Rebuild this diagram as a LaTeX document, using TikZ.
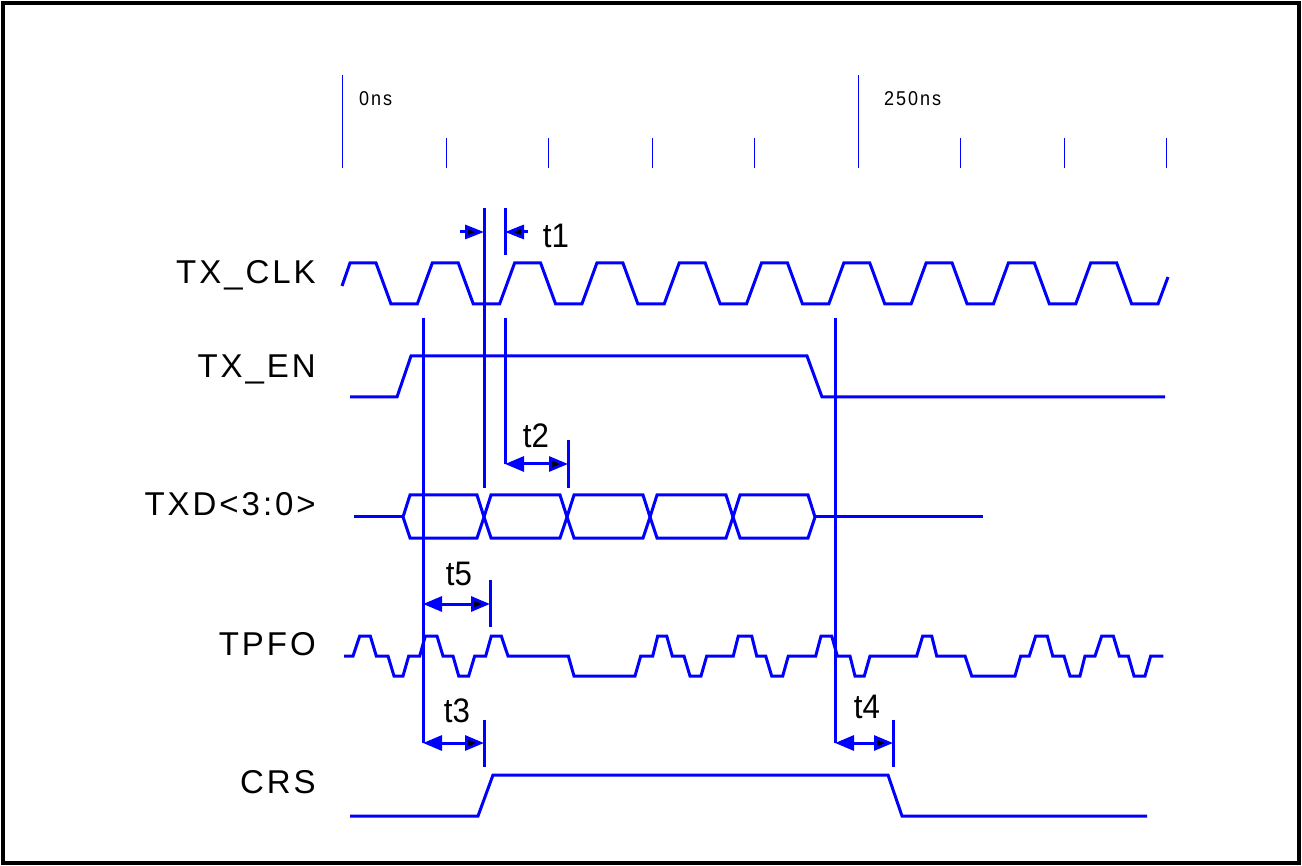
\documentclass[tikz,border=0pt]{standalone}
\usepackage{fontspec}
\usetikzlibrary{arrows.meta}
\newfontfamily\lblfont[LetterSpace=9]{Liberation Sans}
\newfontfamily\rulfont[LetterSpace=10,FakeStretch=0.9]{Liberation Sans}
\newfontfamily\tfont[FakeStretch=0.92]{Liberation Sans}
\definecolor{sig}{RGB}{0,0,255}
\tikzset{
  wave/.style={draw=sig, line width=3pt, line join=miter},
  marker/.style={draw=sig, line width=3pt},
  tick/.style={draw=sig, line width=1pt},
  siglabel/.style={anchor=base east, inner sep=0pt, font=\lblfont\fontsize{33}{36}\selectfont},
  rulelabel/.style={anchor=west, inner sep=0pt, font=\rulfont\fontsize{20}{22}\selectfont},
  tlabel/.style={inner sep=0pt, font=\tfont\fontsize{34}{36}\selectfont},
  darrow/.style={draw=sig, line width=3pt, {Triangle[length=19pt,width=15pt,fill=sig]}-{Triangle[length=19pt,width=15pt,fill=black]}},
  rarrow/.style={draw=sig, line width=3pt, -{Triangle[length=19pt,width=14pt,fill=black]}}
}
\begin{document}
\begin{tikzpicture}[x=1pt,y=-1pt]
\useasboundingbox (0,0) rectangle (1302,866);
\draw[black, line width=3.5pt] (3,3) rectangle (1299,863);

% ruler
\foreach \x in {342,858} \draw[tick] (\x,75) -- (\x,168);
\foreach \x in {446,548,652,754,960,1064,1166} \draw[tick] (\x,138) -- (\x,168);
\node[rulelabel] (r0) at (359,99) {0ns};
\node[rulelabel] (r250) at (884,99) {250ns};

% signal labels
\node[siglabel] (lclk) at (316,284) {TX\_CLK};
\node[siglabel] (len) at (316,378) {TX\_EN};
\node[siglabel] (ltxd) at (316,515) {TXD<3:0>};
\node[siglabel] (ltpfo) at (316,655) {TPFO};
\node[siglabel] (lcrs) at (316,793) {CRS};

% TX_CLK
\draw[wave] (342,286) foreach \k in {0,...,9} {
  -- ({350+82.3*\k},263) -- ({376+82.3*\k},263) -- ({391+82.3*\k},304) -- ({417.3+82.3*\k},304)
} -- (1168,277);

% TX_EN
\draw[wave] (350,397) -- (397,397) -- (411,356) -- (807,356) -- (822,397) -- (1165,397);

% TXD<3:0>
\draw[wave] (354,517) -- (403,517);
\foreach \a/\b in {403/484,484/567,567/650,650/733,733/815}
  \draw[wave] (\a,517) -- (\a+7,495) -- (\b-7,495) -- (\b,517) -- (\b-7,538) -- (\a+7,538) -- cycle;
\draw[wave] (815,517) -- (983,517);

% TPFO
\draw[wave] (344,656) -- (353,656) -- (359.7,636) -- (370.3,636) -- (376.3,656) -- (388,656) -- (394,676) -- (403,676)
 -- (408.7,656) -- (419.7,656) -- (425.3,636) -- (437,636) -- (443,656) -- (453,656) -- (458.7,676) -- (468.7,676)
 -- (474.7,656) -- (485.7,656) -- (491.3,636) -- (501.3,636) -- (508,656) -- (568.3,656) -- (574,676) -- (635,676)
 -- (640.7,656) -- (652.7,656) -- (657.7,636) -- (666.7,636) -- (672.3,656) -- (684,656) -- (690,676) -- (701,676)
 -- (706.7,656) -- (733.3,656) -- (738.3,636) -- (751.7,636) -- (756.7,656) -- (765.7,656) -- (771.7,676) -- (782.7,676)
 -- (788.3,656) -- (815.7,656) -- (821,636) -- (831.7,636) -- (837.3,656) -- (850,656) -- (855,676) -- (864.3,676)
 -- (870,656) -- (916.7,656) -- (922.7,636) -- (931.7,636) -- (936.7,656) -- (965,656) -- (971.7,676) -- (1015,676)
 -- (1020.7,656) -- (1029.3,656) -- (1035.7,636) -- (1047.3,636) -- (1052.7,656) -- (1064,656) -- (1070,676) -- (1080,676)
 -- (1085,656) -- (1095,656) -- (1101.7,636) -- (1113.3,636) -- (1119.3,656) -- (1128.3,656) -- (1134,676) -- (1145,676)
 -- (1150.7,656) -- (1163.3,656);

% CRS
\draw[wave] (350,816) -- (478,816) -- (493,775) -- (888,775) -- (902,816) -- (1147,816);

% marker coordinates
\coordinate (m1a) at (484,208); \coordinate (m1b) at (484,488);
\coordinate (m2a) at (505,208); \coordinate (m2b) at (505,255);
\coordinate (m2c) at (505,318); \coordinate (m2d) at (505,464);
\coordinate (e2a) at (568,440); \coordinate (e2b) at (568,488);
\coordinate (m3a) at (423,318); \coordinate (m3b) at (423,743);
\coordinate (e5a) at (490,580); \coordinate (e5b) at (490,627);
\coordinate (e3a) at (484,720); \coordinate (e3b) at (484,767);
\coordinate (m4a) at (835,318); \coordinate (m4b) at (835,743);
\coordinate (e4a) at (893,720); \coordinate (e4b) at (893,767);
\foreach \p/\q in {m1a/m1b,m2a/m2b,m2c/m2d,e2a/e2b,m3a/m3b,e5a/e5b,e3a/e3b,m4a/m4b,e4a/e4b}
  \draw[marker] (\p) -- (\q);

% t1
\coordinate (t1l) at (460,232); \coordinate (t1lt) at (484,232);
\coordinate (t1r) at (528,232); \coordinate (t1rt) at (505,232);
\draw[rarrow] (t1l) -- (t1lt);
\draw[rarrow] (t1r) -- (t1rt);
\node[tlabel] (t1) at (556,236) {t1};

% t2
\coordinate (a2l) at (505,464); \coordinate (a2r) at (568,464);
\draw[darrow] (a2l) -- (a2r);
\node[tlabel] (t2) at (536,436) {t2};

% t5
\coordinate (a5l) at (423,604); \coordinate (a5r) at (490,604);
\draw[darrow] (a5l) -- (a5r);
\node[tlabel] (t5) at (459,574) {t5};

% t3
\coordinate (a3l) at (423,743); \coordinate (a3r) at (484,743);
\draw[darrow] (a3l) -- (a3r);
\node[tlabel] (t3) at (457,711) {t3};

% t4
\coordinate (a4l) at (835,743); \coordinate (a4r) at (893,743);
\draw[darrow] (a4l) -- (a4r);
\node[tlabel] (t4) at (867,707) {t4};
\end{tikzpicture}
\end{document}
